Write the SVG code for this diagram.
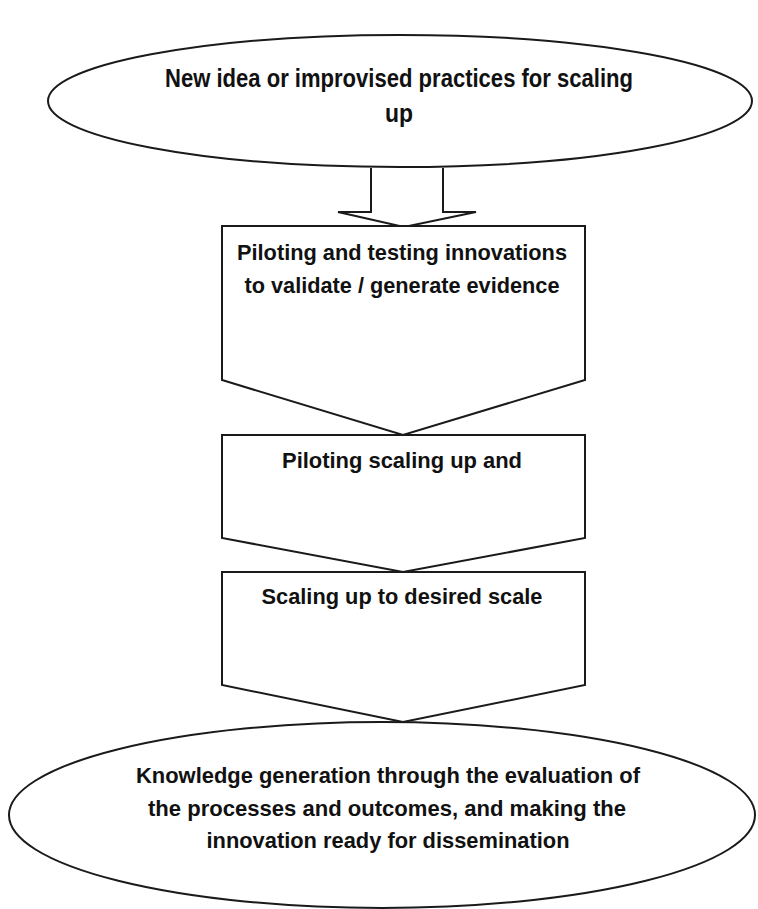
<svg xmlns="http://www.w3.org/2000/svg" width="758" height="909" viewBox="0 0 758 909">
<style>
.s{fill:#fff;stroke:#1a1a1a;stroke-width:2;stroke-linejoin:miter}
.t{font-family:"Liberation Sans",Arial,sans-serif;font-weight:bold;font-size:22px;fill:#111;text-anchor:middle}
.big{font-size:25px}
</style>
<rect width="758" height="909" fill="#fff"/>
<g id="connectors">
<path class="s" d="M371,168 L371,212 L338,212 L404,227 L476,212 L443,212 L443,168"/>
</g>
<g id="n1">
<ellipse class="s" cx="400" cy="101" rx="352" ry="66"/>
<text class="t big" x="399" y="87" textLength="468" lengthAdjust="spacingAndGlyphs">New idea or improvised practices for scaling</text>
<text class="t big" x="399" y="122" textLength="28" lengthAdjust="spacingAndGlyphs">up</text>
</g>
<g id="n2">
<path class="s" d="M222,226 L585,226 L585,380 L403,435 L222,380 Z"/>
<text class="t" x="402" y="260" textLength="330" lengthAdjust="spacingAndGlyphs">Piloting and testing innovations</text>
<text class="t" x="402" y="293" textLength="315" lengthAdjust="spacingAndGlyphs">to validate / generate evidence</text>
</g>
<g id="n3">
<path class="s" d="M222,435 L585,435 L585,538 L403,572 L222,538 Z"/>
<text class="t" x="402" y="468" textLength="240" lengthAdjust="spacingAndGlyphs">Piloting scaling up and</text>
</g>
<g id="n4">
<path class="s" d="M222,572 L585,572 L585,685 L403,722 L222,685 Z"/>
<text class="t" x="402" y="604" textLength="281" lengthAdjust="spacingAndGlyphs">Scaling up to desired scale</text>
</g>
<g id="n5">
<ellipse class="s" cx="382" cy="815" rx="373" ry="93"/>
<text class="t" x="388" y="783" textLength="504" lengthAdjust="spacingAndGlyphs">Knowledge generation through the evaluation of</text>
<text class="t" x="387" y="816" textLength="478" lengthAdjust="spacingAndGlyphs">the processes and outcomes, and making the</text>
<text class="t" x="388" y="848" textLength="363" lengthAdjust="spacingAndGlyphs">innovation ready for dissemination</text>
</g>
</svg>
